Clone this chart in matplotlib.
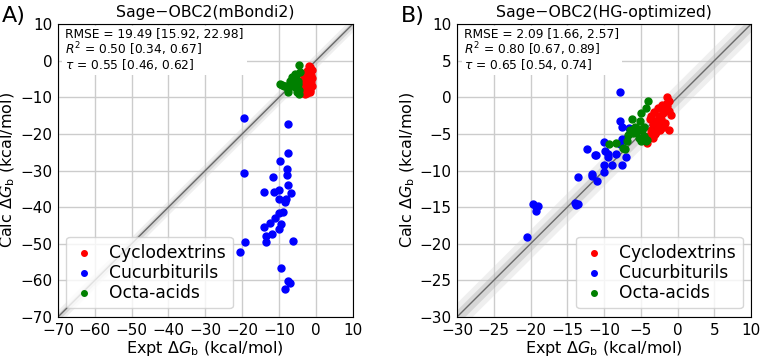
import numpy as np
import matplotlib.pyplot as plt

# panel A: Sage-OBC2(mBondi2)
cd_expt_a = [-2.0, -1.6, -1.2, -2.4, -1.9, -2.8, -1.4, -3.2, -2.2, -1.0, -2.6, -3.5, -1.8, -2.9,
             -1.3, -3.8, -2.1, -2.5, -3.0, -1.5, -3.4, -2.7, -1.1, -3.9, -2.3, -2.0, -3.6, -1.7,
             -2.9, -3.3, -4.0, -2.4, -1.5, -3.1]
cd_calc_a = [-1.5, -1.8, -2.5, -2.8, -3.3, -3.5, -4.0, -4.2, -4.5, -4.7, -5.0, -5.2, -5.4, -5.6,
             -5.8, -6.0, -6.1, -6.3, -6.5, -6.6, -6.8, -7.0, -7.0, -7.3, -7.4, -7.6, -7.8, -8.0,
             -8.2, -8.5, -8.8, -8.9, -8.6, -9.1]
cb_expt_a = [-19.5, -7.5, -7.7, -9.8, -7.8, -19.5, -7.8, -11.7, -7.5, -10.0, -14.1, -11.3, -6.7,
             -9.9, -8.2, -8.5, -8.9, -10.0, -11.1, -12.4, -9.5, -14.1, -10.0, -11.8, -13.5, -13.6,
             -19.2, -6.1, -20.7, -9.6, -7.7, -7.0, -8.5]
cb_calc_a = [-15.6, -17.3, -25.1, -27.4, -29.5, -30.7, -31.2, -31.7, -34.0, -35.2, -36.0, -35.9,
             -36.1, -37.8, -37.8, -38.6, -41.4, -41.6, -43.0, -44.2, -44.7, -45.5, -46.0, -47.2,
             -47.9, -49.5, -49.5, -49.2, -52.3, -56.5, -60.1, -60.6, -62.4]
oa_expt_a = [-4.5, -5.6, -6.5, -7.0, -9.7, -8.8, -7.5, -7.6, -5.2, -4.9, -6.0, -4.7, -5.3, -6.8,
             -8.2, -5.8, -4.4, -6.3, -7.2, -5.0, -9.2, -4.6]
oa_calc_a = [-1.2, -3.6, -4.5, -5.5, -6.4, -6.8, -7.7, -8.6, -8.6, -6.4, -5.2, -9.1, -4.0, -6.0,
             -7.0, -7.3, -3.0, -4.8, -6.9, -5.6, -6.6, -8.0]

# panel B: Sage-OBC2(HG-optimized)
cd_expt_b = [-1.5, -2.1, -1.4, -1.8, -1.1, -3.2, -3.6, -2.5, -0.9, -3.0, -2.4, -3.4, -2.6, -1.9,
             -2.8, -3.6, -2.4, -1.1, -3.7, -4.0, -3.3, -4.1, -1.5, -2.0, -1.2, -2.9, -3.8, -4.4,
             -2.2, -1.7, -3.1, -2.7]
cd_calc_b = [0.1, -1.0, -1.2, -1.7, -1.9, -2.0, -2.6, -2.6, -2.4, -3.2, -3.3, -3.6, -3.8, -4.0,
             -4.3, -4.5, -4.5, -4.5, -5.1, -5.5, -5.5, -6.2, -0.8, -2.2, -0.5, -4.8, -3.0, -5.8,
             -2.9, -3.5, -5.0, -1.5]
cb_expt_b = [-7.8, -7.8, -7.6, -6.6, -7.6, -7.2, -7.8, -12.3, -10.0, -9.9, -9.5, -11.2, -8.4,
             -9.5, -7.0, -10.0, -8.9, -7.6, -10.0, -11.7, -11.7, -13.5, -11.0, -19.6, -19.2, -19.3,
             -19.0, -14.0, -13.5, -13.8, -20.5, -11.1]
cb_calc_b = [0.7, -3.3, -4.0, -4.2, -5.7, -5.7, -6.4, -7.0, -6.1, -7.3, -7.7, -7.9, -7.7, -8.1,
             -8.2, -9.2, -9.2, -9.2, -10.2, -10.5, -10.8, -10.9, -11.4, -14.6, -15.0, -15.5, -14.8,
             -14.5, -14.6, -14.7, -19.1, -7.9]
oa_expt_b = [-4.0, -4.3, -5.0, -6.2, -5.1, -5.8, -4.6, -5.4, -4.9, -6.5, -6.0, -4.6, -5.0, -4.3,
             -6.9, -7.4, -8.4, -9.3, -5.6, -6.7, -7.2, -5.2, -4.1]
oa_calc_b = [-0.5, -1.5, -2.2, -3.0, -3.3, -4.0, -4.0, -4.3, -4.5, -4.5, -4.9, -5.3, -6.0, -6.0,
             -6.0, -6.9, -6.2, -6.4, -4.8, -5.2, -7.0, -5.6, -5.8]

stats_a = "RMSE = 19.49 [15.92, 22.98]\n$R^2$ = 0.50 [0.34, 0.67]\n$\\tau$ = 0.55 [0.46, 0.62]"
stats_b = "RMSE = 2.09 [1.66, 2.57]\n$R^2$ = 0.80 [0.67, 0.89]\n$\\tau$ = 0.65 [0.54, 0.74]"

fig = plt.figure(figsize=(7.62, 3.59), dpi=100)
ax_a = fig.add_axes([0.076, 0.117, 0.387, 0.816])
ax_b = fig.add_axes([0.5997, 0.117, 0.386, 0.816])


def draw_panel(ax, lim, ticks, cd, cb, oa, stats, title, letter, legend_loc):
    xs = np.array(lim)
    ax.fill_between(xs, xs - 2, xs + 2, color='lightgray', alpha=0.35, lw=0, zorder=1)
    ax.fill_between(xs, xs - 1, xs + 1, color='darkgray', alpha=0.35, lw=0, zorder=1)
    ax.plot(xs, xs, color='dimgray', lw=1, zorder=2)
    ax.scatter(cd[0], cd[1], s=25, color='red', label='Cyclodextrins', zorder=3)
    ax.scatter(cb[0], cb[1], s=25, color='blue', label='Cucurbiturils', zorder=3)
    ax.scatter(oa[0], oa[1], s=25, color='green', label='Octa-acids', zorder=3)
    ax.set_xlim(lim)
    ax.set_ylim(lim)
    ax.set_xticks(ticks)
    ax.set_yticks(ticks)
    ax.grid(True, color='#cccccc', lw=1, zorder=0)
    ax.set_axisbelow(True)
    ax.tick_params(axis='x', labelsize=11, length=0, pad=4)
    ax.tick_params(axis='y', labelsize=11, length=0, pad=4)
    ax.set_xlabel('Expt $\\Delta G_\\mathrm{b}$ (kcal/mol)', fontsize=11.5, labelpad=1)
    ax.set_ylabel('Calc $\\Delta G_\\mathrm{b}$ (kcal/mol)', fontsize=11.5, labelpad=2)
    ax.set_title(title, fontsize=11.3, pad=5)
    ax.text(0.025, 0.985, stats, transform=ax.transAxes, fontsize=8.8, va='top', ha='left',
            linespacing=0.92, zorder=5,
            bbox=dict(facecolor='white', edgecolor='none', pad=2))
    ax.text(-0.19, 1.06, letter, transform=ax.transAxes, fontsize=16, va='top', ha='left')
    ax.legend(loc=legend_loc, fontsize=12.3, markerscale=0.8, handlelength=1.3,
              handletextpad=0.8, borderpad=0.4, labelspacing=0.12, framealpha=0.8)


draw_panel(ax_a, [-70, 10], np.arange(-70, 11, 10), (cd_expt_a, cd_calc_a), (cb_expt_a, cb_calc_a),
           (oa_expt_a, oa_calc_a), stats_a, 'Sage\u2212OBC2(mBondi2)', 'A)', 'lower left')
draw_panel(ax_b, [-30, 10], np.arange(-30, 11, 5), (cd_expt_b, cd_calc_b), (cb_expt_b, cb_calc_b),
           (oa_expt_b, oa_calc_b), stats_b, 'Sage\u2212OBC2(HG-optimized)', 'B)', 'lower right')

fig.savefig('out.png', dpi=100)
